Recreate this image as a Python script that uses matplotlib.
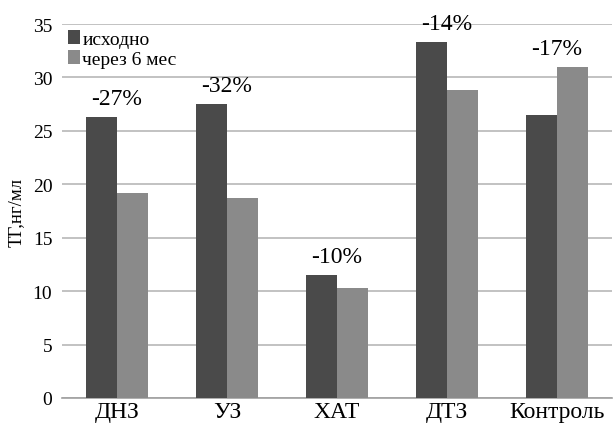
import numpy as np
import matplotlib
matplotlib.use("Agg")
import matplotlib.pyplot as plt

plt.rcParams['font.family'] = ['Liberation Serif', 'DejaVu Serif']

categories = ["ДНЗ", "УЗ", "ХАТ", "ДТЗ", "Контроль"]
baseline = [26.3, 27.5, 11.5, 33.3, 26.5]
after_6m = [19.2, 18.7, 10.3, 28.8, 31.0]
change_labels = ["-27%", "-32%", "-10%", "-14%", "-17%"]
series_names = ["исходно", "через 6 мес"]
y_ticks = [0, 5, 10, 15, 20, 25, 30, 35]

dark = "#4a4a4a"
light = "#8a8a8a"

fig = plt.figure(figsize=(6.15, 4.27), dpi=100)
ax = fig.add_axes([62/615, 1 - 399/427, 550/615, 374/427])

x = np.arange(len(categories))
w = 0.28
ax.bar(x - w/2, baseline, w, color=dark, label=series_names[0], zorder=3)
ax.bar(x + w/2, after_6m, w, color=light, label=series_names[1], zorder=3)

for xi, b, a, lab in zip(x, baseline, after_6m, change_labels):
    ax.text(xi, max(b, a) + 0.75, lab, ha="center", va="bottom", fontsize=17, zorder=4)

ax.set_xlim(-0.5, len(categories) - 0.5)
ax.set_ylim(0, 35)
ax.set_yticks(y_ticks)
ax.set_xticks(x)
ax.set_xticklabels(categories, fontsize=17)
ax.tick_params(axis="y", labelsize=14, length=0, pad=7)
ax.tick_params(axis="x", length=0, pad=2)
ax.yaxis.grid(True, color="#b8b8b8", linewidth=1.2, zorder=0)
for s in ["top", "right", "left"]:
    ax.spines[s].set_visible(False)
ax.spines["bottom"].set_color("#a0a0a0")
ax.spines["bottom"].set_linewidth(1.2)
ax.set_ylabel("ТГ,нг/мл", fontsize=13.5, labelpad=6)

ax.legend(loc="upper left", bbox_to_anchor=(0.0, 1.0), frameon=False, fontsize=14,
          handlelength=0.6, handleheight=0.75, handletextpad=0.15, labelspacing=0.1,
          borderaxespad=0.1, borderpad=0.2)

fig.savefig("out.png", dpi=100, facecolor="white")
